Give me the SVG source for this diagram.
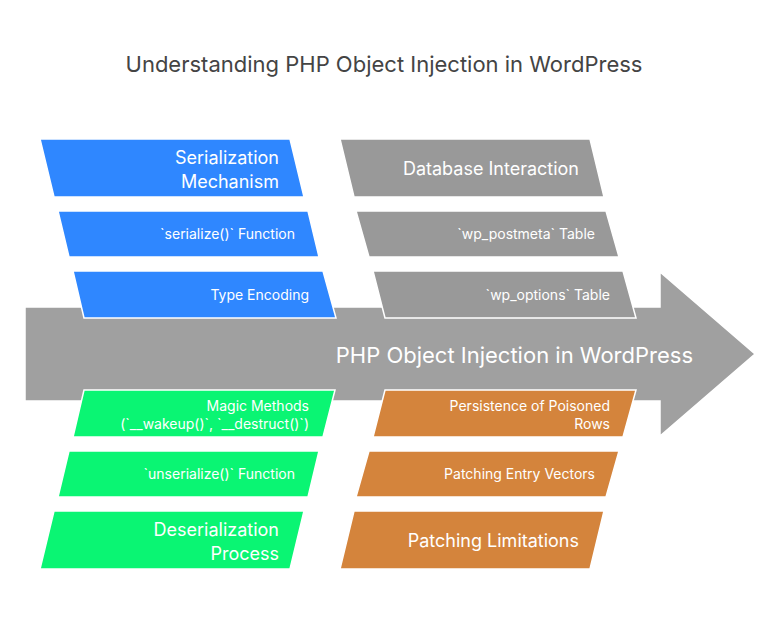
<svg xmlns="http://www.w3.org/2000/svg" width="780" height="618" viewBox="0 0 780 618">
<style>
text{font-family:Inter,"Liberation Sans",sans-serif;fill:#fff;text-anchor:end}
.t{fill:#444;text-anchor:middle;font-size:22px}
.b{font-size:18px}.s{font-size:14px}
.blue{fill:#2F87FF}.green{fill:#0AF573}.gray{fill:#999}.orange{fill:#D4843C}
polygon{stroke:#fff;stroke-width:1.5}
</style>
<rect width="780" height="618" fill="#fff"/>
<text class="t" x="384" y="72">Understanding PHP Object Injection in WordPress</text>
<g id="spine"><polygon points="25,307 660,307 660,272 755,354 660,436 660,401 25,401" fill="#A0A0A0" stroke="none"/>
<text x="693" y="363" style="font-size:22px">PHP Object Injection in WordPress</text></g>
<g id="ser"><polygon class="blue" points="40,139 290,139 304,197 54,197"/><text class="b" x="279" y="164">Serialization</text><text class="b" x="279" y="188">Mechanism</text></g>
<g id="serfn"><polygon class="blue" points="58,211 308,211 319,257 69,257"/><text class="s" x="295" y="239">`serialize()` Function</text></g>
<g id="type"><polygon class="blue" points="73,271 323,271 336,318 84,318"/><text class="s" x="309" y="300">Type Encoding</text></g>
<g id="db"><polygon class="gray" points="340,139 590,139 604,197 354,197"/><text class="b" x="579" y="175">Database Interaction</text></g>
<g id="postmeta"><polygon class="gray" points="356,211 606,211 619,257 369,257"/><text class="s" x="595" y="239">`wp_postmeta` Table</text></g>
<g id="options"><polygon class="gray" points="373,271 623,271 636,318 385,318"/><text class="s" x="610" y="300">`wp_options` Table</text></g>
<g id="magic"><polygon class="green" points="84,390 335,390 323,437 73,437"/><text class="s" x="309" y="411">Magic Methods</text><text class="s" x="309" y="429">(`__wakeup()`, `__destruct()`)</text></g>
<g id="unser"><polygon class="green" points="69,451 319,451 308,497 58,497"/><text class="s" x="295" y="479">`unserialize()` Function</text></g>
<g id="deser"><polygon class="green" points="54,511 304,511 290,569 40,569"/><text class="b" x="279" y="536">Deserialization</text><text class="b" x="279" y="560">Process</text></g>
<g id="persist"><polygon class="orange" points="385,390 636,390 623,437 373,437"/><text class="s" x="610" y="411">Persistence of Poisoned</text><text class="s" x="610" y="429">Rows</text></g>
<g id="entry"><polygon class="orange" points="369,451 619,451 606,497 356,497"/><text class="s" x="595" y="479">Patching Entry Vectors</text></g>
<g id="limits"><polygon class="orange" points="354,511 604,511 590,569 340,569"/><text class="b" x="579" y="547">Patching Limitations</text></g>
<g id="connectors"/>
</svg>
